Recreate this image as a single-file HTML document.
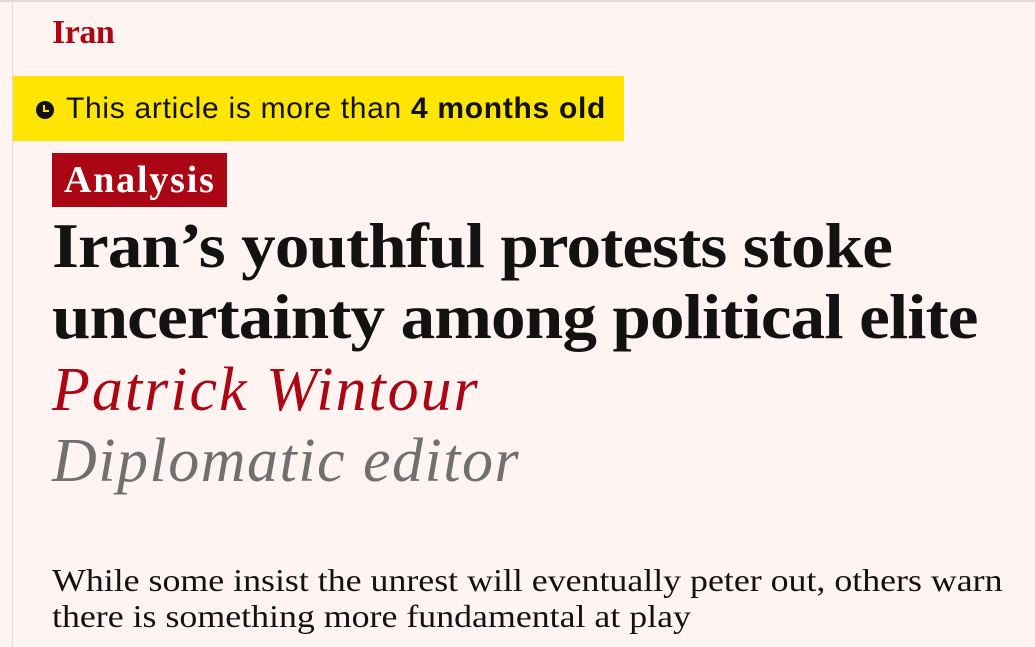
<!DOCTYPE html>
<html><head><meta charset="utf-8"><style>
body{margin:0;width:1035px;height:647px;background:#fff4f2;overflow:hidden;position:relative;font-family:"Liberation Serif",serif;}
.abs{position:absolute;white-space:nowrap;}
.sx{transform-origin:0 0;}
</style></head><body>
<div class="abs" style="left:0;top:0;width:1035px;height:2px;background:#dcdcdc"></div>
<div class="abs" style="left:12px;top:0;width:1px;height:647px;background:#dcdcdc"></div>
<div class="abs" style="left:52px;top:14px;font-size:34px;font-weight:bold;color:#ab0613;letter-spacing:-0.5px">Iran</div>
<div class="abs" style="left:13px;top:76px;width:611px;height:65px;background:#ffe500">
  <svg style="position:absolute;left:23px;top:25px" width="18" height="18" viewBox="0 0 18 18"><circle cx="9" cy="9" r="9" fill="#121212"/><path d="M8 4v6h5" stroke="#ffe500" stroke-width="2" fill="none"/></svg>
  <div class="abs" style="left:53px;top:16px;font-family:'Liberation Sans',sans-serif;font-size:30px;color:#121212;letter-spacing:0.7px">This article is more than <b>4 months old</b></div>
</div>
<div class="abs" style="left:52px;top:153px;width:175px;height:54px;background:#ab0613;"><div class="abs" style="left:12px;top:0;color:#fff;font-size:38px;font-weight:bold;line-height:54px;letter-spacing:1.8px">Analysis</div></div>
<div class="abs sx" style="left:52px;top:210px;font-size:64px;line-height:71px;font-weight:bold;color:#121212;letter-spacing:-0.8px;transform:scaleX(1.08)">Iran’s youthful protests stoke<br>uncertainty among political elite</div>
<div class="abs" style="left:52px;top:354px;font-size:62px;line-height:72px;font-style:italic;color:#ab0613;letter-spacing:2px">Patrick Wintour</div>
<div class="abs" style="left:52px;top:425px;font-size:62px;line-height:72px;font-style:italic;color:#707070;letter-spacing:1.5px">Diplomatic editor</div>
<div class="abs sx" style="left:52px;top:562px;font-size:32px;line-height:36px;color:#121212;transform:scaleX(1.12)">While some insist the unrest will eventually peter out, others warn<br>there is something more fundamental at play</div>
</body></html>
